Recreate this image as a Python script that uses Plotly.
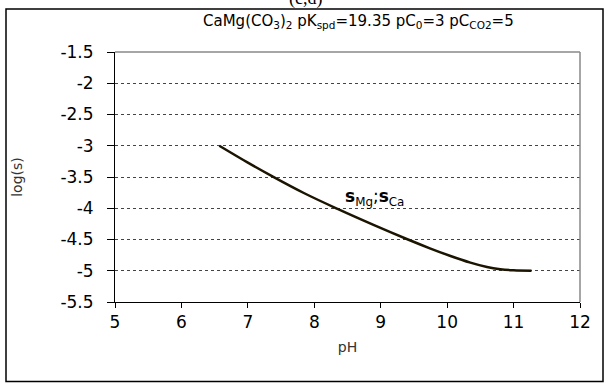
import plotly.graph_objects as go

ph = [6.57, 7.0, 7.37, 7.85, 8.35, 8.9, 9.41, 9.75, 10.04, 10.35, 10.6, 10.8, 11.0, 11.27]
log_s = [-3.0, -3.27, -3.49, -3.76, -4.01, -4.27, -4.5, -4.645, -4.76, -4.87, -4.94, -4.975, -4.993, -5.0]

x_ticks = [5, 6, 7, 8, 9, 10, 11, 12]
y_ticks = [-1.5, -2, -2.5, -3, -3.5, -4, -4.5, -5, -5.5]

W, H = 604, 383
L, R, T, B = 115, 24, 52, 81
pw, ph_ = W - L - R, H - T - B

def px(x):
    return (x - L) / pw

def py(y):
    return (H - B - y) / ph_

FONT = "DejaVu Sans, Arial, sans-serif"

fig = go.Figure()
fig.add_trace(go.Scatter(x=ph, y=log_s, mode="lines",
                         line=dict(color="#1a1400", width=2.5, shape="spline", smoothing=1.0),
                         hoverinfo="skip", showlegend=False))

fig.update_layout(
    width=W, height=H,
    margin=dict(l=L, r=R, t=T, b=B),
    paper_bgcolor="white", plot_bgcolor="white",
    font=dict(family=FONT, color="black"),
    xaxis=dict(range=[5, 12], tickvals=x_ticks, ticktext=[str(v) for v in x_ticks],
               showgrid=False, zeroline=False, showline=True, linecolor="black", linewidth=1,
               ticks="outside", ticklen=5, tickcolor="black",
               tickfont=dict(size=17, family=FONT), mirror=False,
               title=dict(text="pH", font=dict(size=14, color="#333333", family=FONT), standoff=10)),
    yaxis=dict(range=[-5.5, -1.5], tickvals=y_ticks, ticktext=[str(v) for v in y_ticks],
               showgrid=True, gridcolor="#444444", griddash="dot", gridwidth=1,
               zeroline=False, showline=True, linecolor="black", linewidth=1,
               ticks="outside", ticklen=7, tickcolor="black",
               tickfont=dict(size=17, family=FONT), ticklabelstandoff=10,
               title=dict(text="log(s)", font=dict(size=14, color="#333333", family=FONT), standoff=34)),
)

# plot-area top and right borders (grey)
fig.add_shape(type="line", xref="paper", yref="paper", x0=0, x1=1, y0=1, y1=1,
              line=dict(color="#888888", width=1.5))
fig.add_shape(type="line", xref="paper", yref="paper", x0=1, x1=1, y0=0, y1=1,
              line=dict(color="#888888", width=1.5))
# outer border
fig.add_shape(type="rect", xref="paper", yref="paper",
              x0=px(6), x1=px(603), y0=py(381.5), y1=py(9),
              line=dict(color="black", width=1.5))

fig.add_annotation(xref="paper", yref="paper", x=px(358), y=py(22),
                   text="CaMg(CO<sub>3</sub>)<sub>2</sub> pK<sub>spd</sub>=19.35 pC<sub>0</sub>=3 pC<sub>CO2</sub>=5",
                   showarrow=False, font=dict(size=15, color="black", family=FONT),
                   xanchor="center", yanchor="middle")
fig.add_annotation(xref="paper", yref="paper", x=px(305), y=py(11),
                   text="(c,d)", showarrow=False,
                   font=dict(size=18, color="black", family="Liberation Serif, Times New Roman, serif"),
                   xanchor="center", yanchor="bottom")
fig.add_annotation(x=8.9, y=-3.83, text="<b>s</b><sub>Mg</sub>;<b>s</b><sub>Ca</sub>",
                   showarrow=False, font=dict(size=17, color="black", family=FONT),
                   xanchor="center", yanchor="middle")

fig.write_html("out.html")
